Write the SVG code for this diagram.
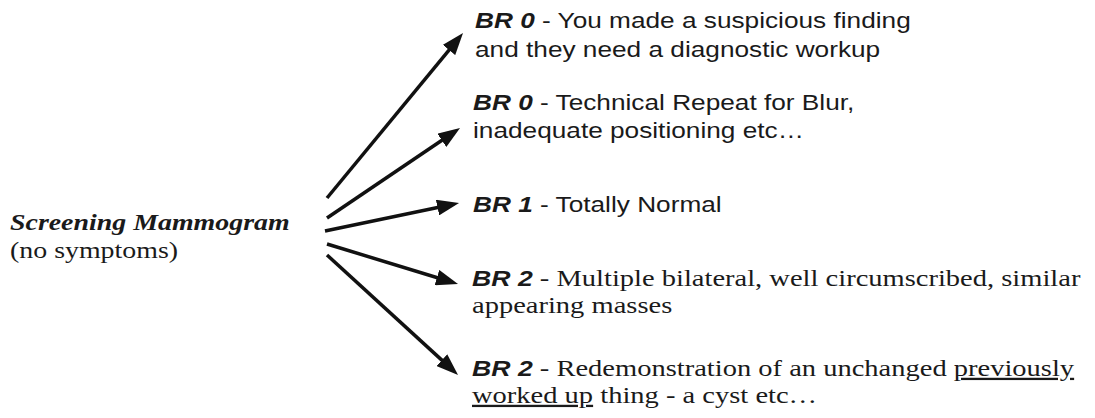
<svg xmlns="http://www.w3.org/2000/svg" width="1095" height="418" viewBox="0 0 1095 418">
  <style>
    .serif { font-family: "Liberation Serif", "Times New Roman", serif; fill: #1a1a1a; }
    .sans { font-family: "Liberation Sans", Arial, sans-serif; fill: #1a1a1a; }
    .br { font-family: "Liberation Sans", Arial, sans-serif; font-weight: bold; font-style: italic; }
    .edge { stroke: #111; stroke-width: 3.5; fill: none; marker-end: url(#head); }
    .ul { text-decoration: underline; }
  </style>
  <defs>
    <marker id="head" markerUnits="userSpaceOnUse" markerWidth="22" markerHeight="16" refX="10" refY="8" orient="auto">
      <path d="M0,0 L22,8 L0,16 z" fill="#111"/>
    </marker>
  </defs>
  <rect width="1095" height="418" fill="#fff"/>

  <!-- source -->
  <g id="screening">
    <text class="serif" font-size="22.5" font-weight="bold" font-style="italic" transform="matrix(1.24 0 0 1 10 230)">Screening Mammogram</text>
    <text class="serif" font-size="22.5" transform="matrix(1.24 0 0 1 10 258)">(no symptoms)</text>
  </g>

  <!-- connectors -->
  <g id="connectors">
    <line class="edge" x1="327" y1="198" x2="455.4" y2="42.3"/>
    <line class="edge" x1="327" y1="218" x2="450.1" y2="134.7"/>
    <line class="edge" x1="325" y1="231" x2="447.3" y2="205.5"/>
    <line class="edge" x1="327" y1="244" x2="446.5" y2="280.5"/>
    <line class="edge" x1="327" y1="255" x2="449.2" y2="366.9"/>
  </g>

  <!-- outcomes -->
  <g id="br0-suspicious">
    <text class="sans" font-size="21.5" transform="matrix(1.22 0 0 1 475 28)"><tspan class="br">BR 0</tspan> - You made a suspicious finding</text>
    <text class="sans" font-size="21.5" transform="matrix(1.22 0 0 1 475 57)">and they need a diagnostic workup</text>
  </g>
  <g id="br0-technical">
    <text class="sans" font-size="21.5" transform="matrix(1.22 0 0 1 473 110)"><tspan class="br">BR 0</tspan> - Technical Repeat for Blur,</text>
    <text class="sans" font-size="21.5" transform="matrix(1.22 0 0 1 473 138)">inadequate positioning etc…</text>
  </g>
  <g id="br1-normal">
    <text class="sans" font-size="21.5" transform="matrix(1.22 0 0 1 473 212)"><tspan class="br">BR 1</tspan> - Totally Normal</text>
  </g>
  <g id="br2-masses">
    <text class="serif" font-size="23" transform="matrix(1.24 0 0 1 472 286)"><tspan class="br" font-size="21.5">BR 2</tspan> - Multiple bilateral, well circumscribed, similar</text>
    <text class="serif" font-size="23" transform="matrix(1.24 0 0 1 472 313)">appearing masses</text>
  </g>
  <g id="br2-unchanged">
    <text class="serif" font-size="23" transform="matrix(1.24 0 0 1 472 376)"><tspan class="br" font-size="21.5">BR 2</tspan> - Redemonstration of an unchanged <tspan class="ul">previously</tspan></text>
    <text class="serif" font-size="23" transform="matrix(1.24 0 0 1 472 403)"><tspan class="ul">worked up</tspan> thing - a cyst etc…</text>
  </g>
</svg>
